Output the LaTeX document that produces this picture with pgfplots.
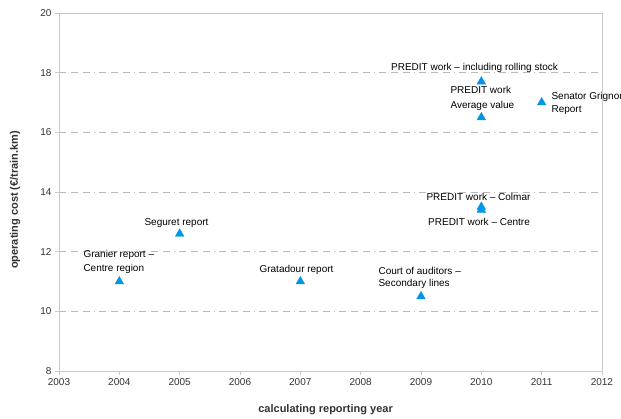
\documentclass[border=0pt]{standalone}
\usepackage{fontspec}
\setmainfont{Liberation Sans}
\usepackage{pgfplots}
\pgfplotsset{compat=1.18}
\definecolor{mk}{RGB}{0,150,230}
\definecolor{txt}{RGB}{51,51,51}
\definecolor{ax}{RGB}{200,200,200}
\definecolor{gr}{RGB}{185,185,185}
\begin{document}
\begin{tikzpicture}
\begin{axis}[
  scale only axis, width=543pt, height=358pt,
  xmin=2003, xmax=2012, ymin=8, ymax=20,
  xtick={2003,2004,...,2012}, ytick={8,10,...,20},
  /pgf/number format/assume math mode=true,
  /pgf/number format/1000 sep={},
  axis line style={ax, line width=0.8pt},
  tick style={ax, line width=0.8pt},
  tick align=outside, major tick length=4pt,
  xtick pos=bottom, ytick pos=left,
  ymajorgrids,
  grid style={gr, line width=0.6pt, dash pattern=on 7pt off 5pt on 7pt off 5pt on 7pt off 4pt on 1pt off 4pt},
  tick label style={font=\fontsize{10}{12}\selectfont, text=txt},
  label style={font=\bfseries\fontsize{11}{13}\selectfont, text=txt},
  xlabel={calculating reporting year},
  ylabel={operating cost (€/train.km)},
  xlabel style={at={(rel axis cs:0.491,-0.109)}, anchor=center},
  ylabel style={at={(rel axis cs:-0.081,0.478)}, anchor=center},
  clip=false,
  every node/.style={font=\fontsize{10}{12}\selectfont, text=txt, inner sep=0pt},
]
\addplot[only marks, mark=triangle*, mark size=5pt, color=mk] coordinates {
  (2004,11.0) (2005,12.6) (2007,11.0) (2009,10.5)
  (2010,17.7) (2010,16.5) (2011,17.0) (2010,13.5) (2010,13.4)
};
\node[anchor=base west] at (axis cs:2003.348,11.820) {Granier report –};
\node[anchor=base west] at (axis cs:2003.348,11.351) {Centre region};
\node[anchor=base] at (axis cs:2004.948,12.893) {Seguret report};
\node[anchor=base] at (axis cs:2006.937,11.317) {Gratadour report};
\node[anchor=base west] at (axis cs:2008.238,11.250) {Court of auditors –};
\node[anchor=base west] at (axis cs:2008.238,10.848) {Secondary lines};
\node[anchor=base] at (axis cs:2009.887,18.056) {PREDIT work – including rolling stock};
\node[anchor=base west] at (axis cs:2009.431,17.285) {PREDIT work};
\node[anchor=base west] at (axis cs:2009.431,16.815) {Average value};
\node[anchor=base west] at (axis cs:2011.105,17.117) {Senator Grignon};
\node[anchor=base west] at (axis cs:2011.105,16.681) {Report};
\node[anchor=base] at (axis cs:2009.953,13.731) {PREDIT work – Colmar};
\node[anchor=base] at (axis cs:2009.962,12.893) {PREDIT work – Centre};
\end{axis}
\pgfresetboundingbox
\path[use as bounding box] (current axis.south west) ++(-59pt,-48pt) rectangle ++(621pt,419pt);
\end{tikzpicture}
\end{document}
